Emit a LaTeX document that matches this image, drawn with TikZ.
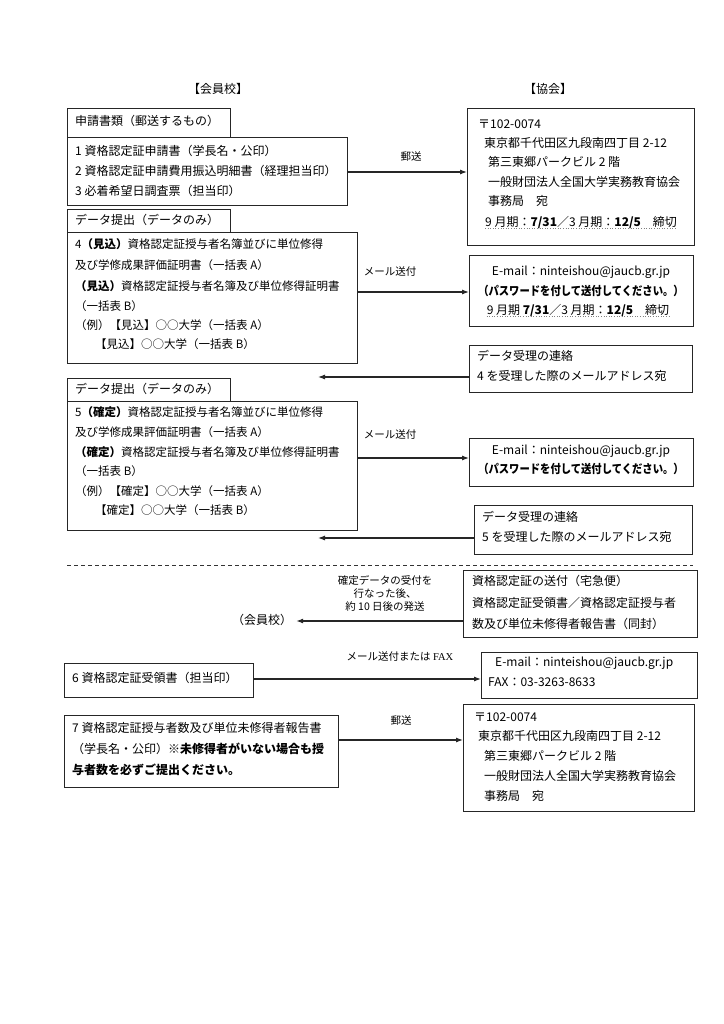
\documentclass[tikz,border=0pt]{standalone}
\usepackage{fontspec}
\setmainfont{Noto Sans CJK JP}
\newfontfamily\latinserif{Liberation Serif}
\usetikzlibrary{arrows.meta}
\tikzset{
  box/.style={draw=black!85, line width=1.1pt, rectangle, inner sep=0pt, anchor=north west},
  txt/.style={font=\fontsize{12}{14}\selectfont, inner sep=0pt, anchor=west, text height=9pt, text depth=2pt},
  txts/.style={txt, font=\fontsize{11.5}{14}\selectfont},
  ctr/.style={txt, anchor=center},
  lbl/.style={font=\fontsize{10.5}{12}\selectfont, inner sep=0pt, align=center},
  arr/.style={-{Latex[length=7pt,width=5pt]}, line width=1.1pt, black!85},
  uline/.style={draw=black!50, line width=0.6pt, dotted}
}
\newcommand{\pwline}{\scalebox{0.86}[1]{\textbf{（パスワードを付して送付してください。）}}}
\begin{document}
\begin{tikzpicture}[x=1pt,y=-1pt]
\fill[white] (0,0) rectangle (723,1024);
\useasboundingbox (0,0) rectangle (723,1024);

% headers
\node[ctr] (hL) at (218,90) {【会員校】};
\node[ctr] (hR) at (548,90) {【協会】};

% ---- 申請書類
\node[box, minimum width=163pt, minimum height=29pt] (A0) at (67,108) {};
\node[txt] (a0t) at (75,122) {申請書類（郵送するもの）};
\node[box, minimum width=280pt, minimum height=68pt] (A1) at (67,137) {};
\node[txt] (a1a) at (75,152) {1 資格認定証申請書（学長名・公印）};
\node[txt] (a1b) at (75,172) {2 資格認定証申請費用振込明細書（経理担当印）};
\node[txt] (a1c) at (75,192) {3 必着希望日調査票（担当印）};

\node[box, minimum width=227pt, minimum height=137pt] (R1) at (467,108) {};
\node[txt] (r1a) at (478,125) {〒102-0074};
\node[txt] (r1b) at (484,144) {東京都千代田区九段南四丁目 2-12};
\node[txt] (r1c) at (488,163) {第三東郷パークビル 2 階};
\node[txt] (r1d) at (488,183) {一般財団法人全国大学実務教育協会};
\node[txt] (r1e) at (488,202) {事務局　宛};
\node[txt] (r1f) at (485,223) {9 月期：\textbf{7/31}／3 月期：\textbf{12/5}　締切};
\draw[uline] (r1f.south west) -- (r1f.south east);

\coordinate (y1) at (0,172);
\draw[arr] (A1.east |- y1) -- (R1.west |- y1);
\node[lbl] (l1) at (411,157) {郵送};

% ---- データ提出 4
\node[box, minimum width=163pt, minimum height=23pt] (B0) at (67,209) {};
\node[txt] (b0t) at (75,221) {データ提出（データのみ）};
\node[box, minimum width=290pt, minimum height=131pt] (B1) at (67,232) {};
\node[txts] (b1a) at (75,245) {4\textbf{（見込）}資格認定証授与者名簿並びに単位修得};
\node[txts] (b1b) at (75,266) {及び学修成果評価証明書（一括表 A）};
\node[txts] (b1c) at (75,287) {\textbf{（見込）}資格認定証授与者名簿及び単位修得証明書};
\node[txts] (b1d) at (75,307) {（一括表 B）};
\node[txts] (b1e) at (75,326) {（例）【見込】○○大学（一括表 A）};
\node[txts] (b1f) at (95,345) {【見込】○○大学（一括表 B）};

\node[box, minimum width=224pt, minimum height=71pt] (E1) at (469,255) {};
\node[ctr] (e1a) at (581,272) {E-mail：ninteishou@jaucb.gr.jp};
\node[ctr] (e1b) at (581,292) {\pwline};
\node[ctr] (e1c) at (578,311) {9 月期 \textbf{7/31}／3 月期：\textbf{12/5}　締切};
\draw[uline] (e1c.south west) -- (e1c.south east);

\coordinate (y2) at (0,292);
\draw[arr] (B1.east |- y2) -- (E1.west |- y2);
\node[lbl] (l2) at (390,272) {メール送付};

\node[box, minimum width=223pt, minimum height=47pt] (C1) at (469,345) {};
\node[txt] (c1a) at (477,357) {データ受理の連絡};
\node[txt] (c1b) at (477,377) {4 を受理した際のメールアドレス宛};
\coordinate (k1) at (318,377);
\draw[arr] (C1.west |- k1) -- (k1);

% ---- データ提出 5
\node[box, minimum width=163pt, minimum height=23pt] (D0) at (67,378) {};
\node[txt] (d0t) at (75,390) {データ提出（データのみ）};
\node[box, minimum width=290pt, minimum height=129pt] (D1) at (67,401) {};
\node[txts] (d1a) at (75,413) {5\textbf{（確定）}資格認定証授与者名簿並びに単位修得};
\node[txts] (d1b) at (75,433) {及び学修成果評価証明書（一括表 A）};
\node[txts] (d1c) at (75,453) {\textbf{（確定）}資格認定証授与者名簿及び単位修得証明書};
\node[txts] (d1d) at (75,472) {（一括表 B）};
\node[txts] (d1e) at (75,492) {（例）【確定】○○大学（一括表 A）};
\node[txts] (d1f) at (95,511) {【確定】○○大学（一括表 B）};

\node[box, minimum width=224pt, minimum height=48pt] (E2) at (469,438) {};
\node[ctr] (e2a) at (581,451) {E-mail：ninteishou@jaucb.gr.jp};
\node[ctr] (e2b) at (581,470) {\pwline};

\coordinate (y4) at (0,458);
\draw[arr] (D1.east |- y4) -- (E2.west |- y4);
\node[lbl] (l4) at (390,435) {メール送付};

\node[box, minimum width=218pt, minimum height=49pt] (C2) at (474,505) {};
\node[txt] (c2a) at (482,518) {データ受理の連絡};
\node[txt] (c2b) at (482,538) {5 を受理した際のメールアドレス宛};
\coordinate (k2) at (318,538);
\draw[arr] (C2.west |- k2) -- (k2);

% ---- separator
\draw[dashed, line width=0.8pt, black!80, dash pattern=on 4pt off 3pt] (67,565) -- (693,565);

% ---- 資格認定証の送付
\node[box, minimum width=234pt, minimum height=67pt] (F) at (463,570) {};
\node[txt] (fa) at (472,582) {資格認定証の送付（宅急便）};
\node[txt] (fb) at (472,604) {資格認定証受領書／資格認定証授与者};
\node[txt] (fc) at (472,625) {数及び単位未修得者報告書（同封）};
\node[lbl] (l6) at (385,593) {確定データの受付を\\[1pt]行なった後、\\[1pt]約 10 日後の発送};
\node[ctr] (kai) at (262,621) {（会員校）};
\coordinate (y6) at (0,621);
\draw[arr] (F.west |- y6) -- ([xshift=4pt]kai.east);

% ---- 6
\node[box, minimum width=189pt, minimum height=34pt] (G6) at (64,663) {};
\node[txt] (g6t) at (72,679) {6 資格認定証受領書（担当印）};
\node[box, minimum width=216pt, minimum height=46pt] (H) at (481,652) {};
\node[txt] (ha) at (495,663) {E-mail：ninteishou@jaucb.gr.jp};
\node[txt] (hb) at (488,683) {FAX：03-3263-8633};
\coordinate (y7) at (0,679);
\draw[arr] (G6.east |- y7) -- (H.west |- y7);
\node[lbl] (l7) at (400,657) {メール送付または {\latinserif FAX}};

% ---- 7
\node[box, minimum width=274pt, minimum height=72pt] (G7) at (64,715) {};
\node[txt] (g7a) at (72,729) {7 資格認定証授与者数及び単位未修得者報告書};
\node[txt] (g7b) at (72,750) {（学長名・公印）\textbf{※未修得者がいない場合も授}};
\node[txt] (g7c) at (72,771) {\textbf{与者数を必ずご提出ください。}};
\node[box, minimum width=231pt, minimum height=107pt] (I) at (463,704) {};
\node[txt] (ia) at (474,718) {〒102-0074};
\node[txt] (ib) at (478,737) {東京都千代田区九段南四丁目 2-12};
\node[txt] (ic) at (484,757) {第三東郷パークビル 2 階};
\node[txt] (id) at (484,777) {一般財団法人全国大学実務教育協会};
\node[txt] (ie) at (484,797) {事務局　宛};
\coordinate (y8) at (0,740);
\draw[arr] (G7.east |- y8) -- (I.west |- y8);
\node[lbl] (l8) at (401,721) {郵送};
\end{tikzpicture}
\end{document}
